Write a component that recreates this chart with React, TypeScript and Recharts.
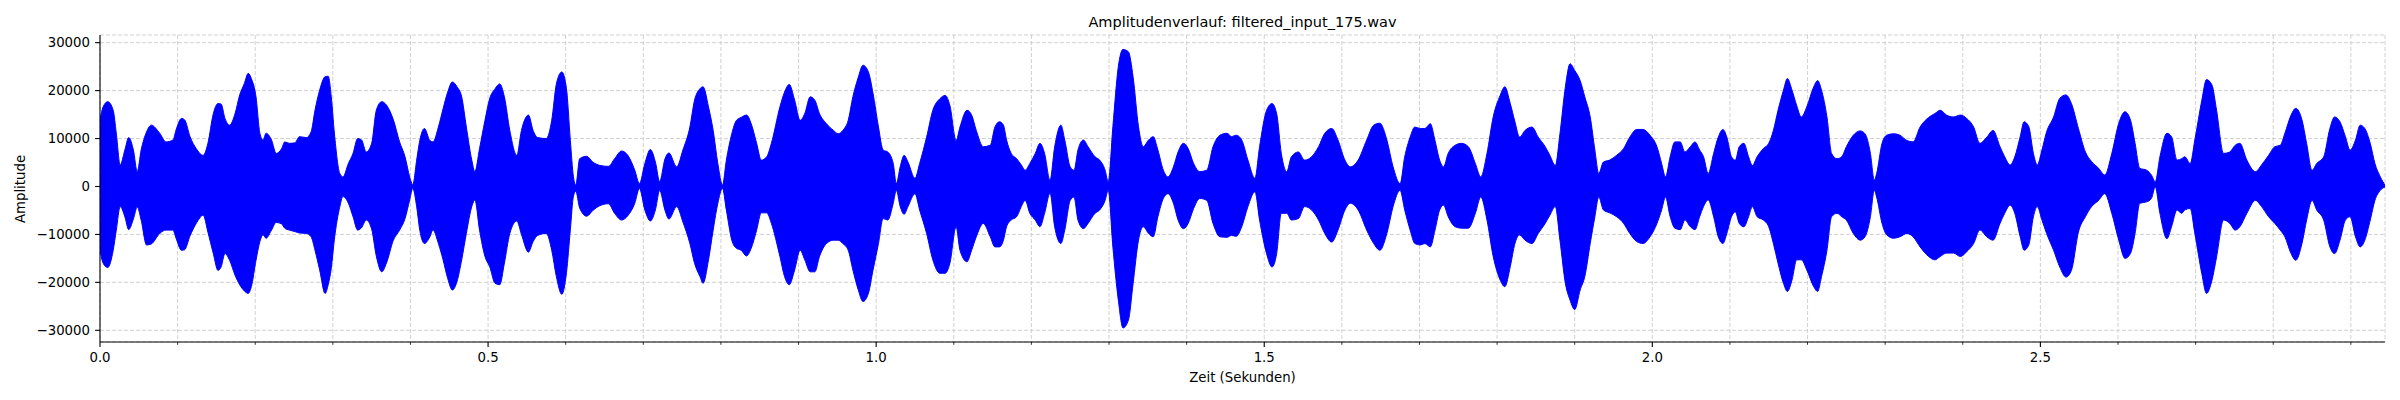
import { Area, CartesianGrid, ComposedChart, XAxis, YAxis } from "recharts";

// Envelope of the waveform (seconds / amplitude)
const times = [
  // 0.0 - 0.38
  0.0, 0.004, 0.01, 0.017, 0.021, 0.026, 0.032, 0.037, 0.043, 0.048,
  0.053, 0.06, 0.066, 0.077, 0.085, 0.094, 0.098, 0.105, 0.109, 0.116,
  0.124, 0.133, 0.139, 0.146, 0.152, 0.156, 0.161, 0.167, 0.174, 0.18,
  0.186, 0.191, 0.195, 0.201, 0.206, 0.21, 0.214, 0.221, 0.227, 0.234,
  0.238, 0.244, 0.251, 0.257, 0.266, 0.272, 0.277, 0.283, 0.29, 0.294,
  0.298, 0.302, 0.309, 0.313, 0.32, 0.326, 0.332, 0.337, 0.343, 0.35,
  0.356, 0.363, 0.369, 0.378,
  // 0.38 - 0.77
  0.386, 0.393, 0.399, 0.403, 0.408, 0.412, 0.418, 0.425, 0.429, 0.436,
  0.442, 0.448, 0.454, 0.46, 0.466, 0.472, 0.479, 0.483, 0.489, 0.496,
  0.502, 0.509, 0.515, 0.521, 0.528, 0.537, 0.543, 0.552, 0.558, 0.564,
  0.575, 0.582, 0.588, 0.595, 0.601, 0.606, 0.61, 0.613, 0.618, 0.627,
  0.635, 0.644, 0.655, 0.663, 0.672, 0.68, 0.689, 0.695, 0.702, 0.709,
  0.716, 0.721, 0.728, 0.733, 0.743, 0.751, 0.76, 0.766,
  // 0.77 - 1.16
  0.773, 0.777, 0.784, 0.79, 0.796, 0.802, 0.807, 0.814, 0.82, 0.826,
  0.833, 0.839, 0.846, 0.852, 0.859, 0.865, 0.876, 0.882, 0.888, 0.895,
  0.902, 0.908, 0.915, 0.921, 0.927, 0.936, 0.945, 0.951, 0.957, 0.964,
  0.97, 0.977, 0.983, 0.99, 0.996, 1.003, 1.009, 1.015, 1.022, 1.026,
  1.031, 1.036, 1.041, 1.05, 1.056, 1.065, 1.073, 1.082, 1.089, 1.095,
  1.103, 1.108, 1.117, 1.123, 1.129, 1.138, 1.147, 1.153,
  // 1.16 - 1.67
  1.159, 1.164, 1.168, 1.174, 1.181, 1.187, 1.192, 1.198, 1.205, 1.211,
  1.217, 1.224, 1.23, 1.238, 1.243, 1.25, 1.255, 1.26, 1.267, 1.273,
  1.282, 1.288, 1.295, 1.299, 1.305, 1.312, 1.318, 1.325, 1.331, 1.338,
  1.344, 1.351, 1.357, 1.363, 1.37, 1.376, 1.383, 1.389, 1.396, 1.402,
  1.409, 1.417, 1.426, 1.434, 1.443, 1.452, 1.458, 1.464, 1.471, 1.479,
  1.488, 1.494, 1.503, 1.51, 1.516, 1.522, 1.529, 1.535, 1.544, 1.552,
  1.561, 1.57, 1.578, 1.587, 1.595, 1.604, 1.611, 1.621, 1.632, 1.641,
  1.649, 1.658, 1.666,
  // 1.67 - 2.06
  1.675, 1.681, 1.688, 1.694, 1.701, 1.707, 1.714, 1.72, 1.726, 1.731,
  1.737, 1.746, 1.754, 1.763, 1.772, 1.779, 1.787, 1.795, 1.804, 1.81,
  1.817, 1.823, 1.829, 1.836, 1.845, 1.853, 1.862, 1.868, 1.875, 1.881,
  1.888, 1.894, 1.9, 1.907, 1.913, 1.92, 1.926, 1.931, 1.937, 1.945,
  1.954, 1.963, 1.971, 1.98, 1.988, 1.997, 2.006, 2.012, 2.017, 2.023,
  2.029, 2.036, 2.042, 2.049, 2.055,
  // 2.06 - 2.44
  2.061, 2.066, 2.072, 2.079, 2.085, 2.091, 2.096, 2.102, 2.107, 2.112,
  2.118, 2.124, 2.129, 2.135, 2.143, 2.15, 2.156, 2.162, 2.169, 2.174,
  2.18, 2.186, 2.192, 2.199, 2.208, 2.213, 2.218, 2.225, 2.231, 2.238,
  2.244, 2.25, 2.259, 2.268, 2.274, 2.281, 2.286, 2.289, 2.296, 2.302,
  2.311, 2.319, 2.328, 2.336, 2.345, 2.356, 2.364, 2.371, 2.379, 2.388,
  2.397, 2.405, 2.414, 2.422, 2.431, 2.439,
  // 2.44 - end
  2.448, 2.454, 2.461, 2.467, 2.474, 2.479, 2.485, 2.491, 2.496, 2.502,
  2.508, 2.517, 2.525, 2.533, 2.54, 2.549, 2.558, 2.566, 2.575, 2.583,
  2.592, 2.601, 2.609, 2.616, 2.622, 2.628, 2.637, 2.643, 2.648, 2.654,
  2.663, 2.669, 2.676, 2.682, 2.686, 2.693, 2.699, 2.708, 2.714, 2.721,
  2.727, 2.736, 2.744, 2.751, 2.757, 2.766, 2.777, 2.785, 2.794, 2.802,
  2.809, 2.815, 2.823, 2.829, 2.837, 2.843, 2.85, 2.856, 2.865, 2.873,
  2.879, 2.886, 2.893, 2.899, 2.906, 2.912, 2.918, 2.925, 2.931, 2.938,
  2.944,
];

const upper = [
  13900, 16600, 17700, 15900, 11100, 4500, 7600, 10200, 7600, 3100,
  7600, 11400, 12800, 11100, 9300, 9700, 11800, 14200, 13900, 10400,
  7900, 6500, 9000, 15200, 17300, 17200, 14200, 12800, 15200, 19100,
  21500, 23600, 22500, 18700, 11100, 9700, 11100, 9700, 6900, 7900,
  9300, 9000, 9100, 10400, 10200, 11400, 15900, 20100, 22900, 23000,
  18700, 11100, 2700, 2000, 4800, 6900, 10000, 9700, 7200, 9000,
  15900, 17700, 17000, 13900,

  9300, 6200, 2000, 400, 5500, 9600, 12100, 9600, 9300, 12400,
  16200, 19700, 21800, 20800, 18700, 12400, 5500, 3100, 7900, 13800,
  18300, 20400, 21400, 18700, 11700, 6500, 11700, 14900, 11700, 10200,
  10000, 13800, 21400, 23900, 20400, 9600, 2000, 300, 5800, 6300,
  5100, 4400, 4200, 5800, 7400, 6500, 3400, 600, 4800, 7700,
  4800, 1000, 5800, 7000, 4100, 7600, 12400, 18000,

  20400, 20800, 16600, 11700, 4800, 300, 5500, 11000, 13800, 14400,
  14900, 13100, 9000, 5500, 6200, 9000, 16600, 19700, 21300, 18000,
  13800, 15200, 18700, 18000, 15200, 13100, 11700, 11000, 11700, 13800,
  18700, 22800, 25300, 23900, 19400, 12400, 7600, 7200, 4800, 600,
  4100, 6500, 5100, 1700, 4800, 10300, 15900, 18300, 19000, 16900,
  9600, 12400, 15900, 14900, 11700, 8300, 8600, 12400,

  13500, 12800, 9700, 6900, 5800, 4500, 3400, 4800, 6900, 9000,
  6900, 1300, 8300, 12800, 9700, 4100, 3400, 7600, 9700, 8300,
  6200, 5500, 3400, 1000, 12500, 25000, 28600, 28100, 22900, 12500,
  8300, 9700, 10400, 7600, 3400, 2000, 4100, 7200, 9000, 7900,
  4800, 3100, 3400, 8300, 10700, 11100, 10400, 10700, 9700, 5500,
  1700, 8300, 15900, 17300, 15200, 6900, 3100, 6200, 7200, 5500,
  6200, 8300, 11100, 12100, 9700, 5500, 4100, 5500, 9700, 12800,
  13200, 9700, 4100,

  600, 6200, 10300, 12400, 12100, 12100, 13100, 9600, 5500, 4100,
  6900, 8600, 9000, 8300, 4800, 2000, 6900, 14500, 19000, 20800,
  17300, 13500, 10300, 11700, 12400, 10300, 8300, 6500, 4400, 11000,
  20800, 25600, 24200, 22100, 18700, 14500, 7600, 2700, 5100, 5500,
  6500, 7900, 10300, 11900, 11900, 10700, 8300, 4800, 2000, 6200,
  9300, 9300, 7200, 8300, 9300,

  7600, 6200, 2700, 6900, 10300, 11900, 10300, 6200, 5500, 8300,
  9000, 6200, 4400, 6200, 7900, 9000, 11700, 15900, 20100, 22500,
  20100, 16900, 14500, 16600, 20800, 22100, 20100, 14500, 6900, 5800,
  6200, 8300, 10700, 11600, 11000, 6900, 1300, 2700, 9000, 10700,
  11000, 10700, 9600, 9300, 12400, 14400, 15200, 15900, 14900, 14500,
  14900, 14200, 12400, 9000, 10300, 11700,

  8300, 6200, 4500, 6200, 10400, 13500, 12500, 6900, 4500, 7600,
  11400, 14500, 18400, 19100, 17300, 12100, 7200, 5200, 3800, 2400,
  6900, 13200, 15600, 13900, 9000, 3800, 3400, 2400, 1000, 6200,
  11100, 10400, 5500, 5800, 6200, 4800, 9700, 18000, 22300, 21200,
  15900, 6900, 7200, 8600, 9000, 5500, 3100, 4500, 6500, 8300,
  8600, 11100, 14900, 16300, 13900, 9000, 3400, 4800, 6200, 12100,
  14500, 13500, 10400, 7600, 9700, 12800, 12100, 9000, 4800, 2000,
  300,
];

const lower = [
  -13300, -16000, -16900, -13300, -9100, -4200, -6300, -9000, -6800, -4300,
  -7000, -12200, -12000, -9800, -9100, -9100, -10800, -13300, -13200, -10300,
  -7700, -6000, -9500, -14000, -17500, -16800, -14000, -15400, -18500, -20500,
  -21800, -22300, -20900, -15400, -11500, -10100, -10800, -9100, -7500, -7800,
  -8700, -9100, -9400, -9700, -9800, -10500, -13300, -17400, -22300, -20500,
  -17000, -11000, -4200, -2100, -3500, -6300, -9100, -8600, -7000, -8900,
  -14500, -17800, -16000, -11200,

  -9100, -6700, -2800, -400, -4200, -9100, -11900, -10500, -9100, -11900,
  -15300, -19200, -21600, -19800, -15300, -9800, -4200, -2800, -9100, -14600,
  -16700, -20200, -20500, -16000, -9800, -7200, -10000, -13700, -11500, -10200,
  -9800, -13300, -18800, -22500, -18000, -9000, -2000, -1000, -4500, -6200,
  -5000, -4000, -3600, -5600, -7000, -6100, -3500, -400, -4900, -7200,
  -4600, -800, -5000, -6800, -4200, -7400, -11900, -16000,

  -18800, -20200, -15300, -9100, -3500, -400, -4900, -11200, -12900, -13300,
  -14500, -12900, -9100, -5500, -5500, -7700, -14600, -18800, -20500, -17400,
  -13300, -15300, -17800, -17800, -14600, -11900, -11200, -11200, -11900, -13300,
  -17400, -21600, -24000, -22300, -17400, -11900, -6700, -7000, -3500, -800,
  -4200, -5800, -4200, -1500, -4900, -9800, -15300, -18100, -18100, -16000,
  -8400, -13300, -15700, -13300, -10500, -7700, -10500, -12600,

  -12600, -11200, -8400, -7000, -6300, -4200, -2900, -5600, -7000, -8400,
  -5600, -1400, -8400, -11900, -9100, -2900, -2200, -7000, -8800, -7700,
  -5600, -4900, -2900, -800, -12600, -23700, -29500, -27900, -20300, -11200,
  -8400, -9800, -10500, -6300, -2500, -1500, -3500, -7000, -8800, -7700,
  -4600, -2500, -2900, -7700, -10500, -10600, -10200, -10400, -8400, -4200,
  -1100, -7000, -14000, -16800, -14000, -5600, -5600, -7000, -6700, -4200,
  -4900, -7000, -9800, -11600, -9100, -4900, -3500, -4900, -9100, -11900,
  -13300, -9800, -4200,

  -800, -4900, -9100, -11900, -12200, -11900, -12600, -9100, -4900, -3900,
  -6300, -8400, -8700, -8700, -5600, -2200, -7000, -14600, -19500, -20900,
  -16700, -11900, -10100, -11200, -11900, -9800, -7700, -6000, -4200, -11200,
  -20200, -23700, -25700, -21600, -18800, -11900, -6300, -2200, -4900, -5500,
  -6300, -7700, -9800, -11500, -11900, -10500, -7700, -4900, -2200, -6300,
  -8700, -9000, -7000, -8400, -9000,

  -6300, -4200, -2800, -6300, -10500, -11900, -9800, -6300, -5300, -7700,
  -8400, -6300, -4200, -6300, -7000, -8400, -11900, -16000, -20200, -21900,
  -19500, -15300, -15300, -17400, -20900, -21900, -18800, -13300, -6300, -5600,
  -6300, -7000, -9800, -11200, -10500, -6300, -800, -2200, -7700, -10100,
  -10800, -10500, -9800, -10500, -12600, -14600, -15300, -14600, -13900, -13900,
  -14600, -13600, -11900, -9100, -10500, -11200,

  -7700, -5600, -3900, -5600, -10500, -13300, -12200, -6300, -4200, -7000,
  -9800, -13300, -16800, -18900, -17500, -9500, -6300, -4200, -2900, -1500,
  -5600, -11200, -15000, -14000, -9800, -3500, -3200, -2500, -100, -5600,
  -10900, -8400, -4900, -5600, -4900, -4600, -9800, -18200, -22300, -19600,
  -14700, -7000, -7700, -9100, -8400, -5600, -2900, -4200, -6300, -7700,
  -9100, -10500, -14000, -15400, -11900, -7000, -2900, -4900, -7000, -12600,
  -14000, -11200, -7000, -6300, -10500, -12600, -11200, -7000, -2900, -800,
  -100,
];

const xTicks = [
  0, 0.1, 0.2, 0.3, 0.4, 0.5, 0.6, 0.7, 0.8, 0.9, 1, 1.1, 1.2, 1.3, 1.4, 1.5,
  1.6, 1.7, 1.8, 1.9, 2, 2.1, 2.2, 2.3, 2.4, 2.5, 2.6, 2.7, 2.8, 2.9,
];
const xLabels = [0, 0.5, 1, 1.5, 2, 2.5];
const yTicks = [-30000, -20000, -10000, 0, 10000, 20000, 30000];

const xDomain = [0, 2.944];
const yDomain = [-32440, 31600];

const FONT = "DejaVu Sans, sans-serif";

const data = times.map((t, i) => ({ t, range: [lower[i], upper[i]] }));

const XTick = (props: any) => {
  const { x, y, payload } = props;
  const major = xLabels.includes(payload.value);
  return (
    <g>
      <line
        x1={x}
        x2={x}
        y1={y}
        y2={y + (major ? 4.9 : 2.8)}
        stroke="#000"
        strokeWidth={major ? 1.1 : 0.8}
      />
      {major && (
        <text x={x} y={y + 20} textAnchor="middle" fontSize={13.3} fontFamily={FONT} fill="#000">
          {payload.value.toFixed(1)}
        </text>
      )}
    </g>
  );
};

const YTick = (props: any) => {
  const { x, y, payload } = props;
  const v = payload.value;
  const label = v < 0 ? "\u2212" + Math.abs(v) : String(v);
  return (
    <g>
      <line x1={x - 4.9} x2={x} y1={y} y2={y} stroke="#000" strokeWidth={1.1} />
      <text x={x - 10} y={y} dy="0.36em" textAnchor="end" fontSize={13.3} fontFamily={FONT} fill="#000">
        {label}
      </text>
    </g>
  );
};

export default function App() {
  return (
    <div style={{ position: "absolute", left: 0, top: 0, width: 2400, height: 400, background: "#fff" }}>
      <ComposedChart
        width={2400}
        height={400}
        data={data}
        margin={{ top: 35, right: 15, bottom: 28, left: 10 }}
      >
        <CartesianGrid stroke="#cccccc" strokeDasharray="4 2" strokeWidth={0.9} />
        <XAxis
          dataKey="t"
          type="number"
          domain={xDomain}
          ticks={xTicks}
          interval={0}
          allowDataOverflow
          height={30}
          tickSize={0}
          tickMargin={0}
          tickLine={false}
          tick={XTick}
          axisLine={{ stroke: "#000", strokeWidth: 1.1 }}
        />
        <XAxis
          xAxisId="top"
          orientation="top"
          type="number"
          domain={xDomain}
          height={0}
          tick={false}
          tickLine={false}
          axisLine={{ stroke: "#000", strokeWidth: 1.1 }}
        />
        <YAxis
          type="number"
          domain={yDomain}
          ticks={yTicks}
          interval={0}
          allowDataOverflow
          width={90}
          tickSize={0}
          tickMargin={0}
          tickLine={false}
          tick={YTick}
          axisLine={{ stroke: "#000", strokeWidth: 1.1 }}
        />
        <YAxis
          yAxisId="right"
          orientation="right"
          type="number"
          domain={yDomain}
          width={0}
          tick={false}
          tickLine={false}
          axisLine={{ stroke: "#000", strokeWidth: 1.1 }}
        />
        <Area
          dataKey="range"
          type="monotone"
          stroke="#0000ff"
          strokeWidth={1}
          fill="#0000ff"
          fillOpacity={1}
          dot={false}
          activeDot={false}
          isAnimationActive={false}
        />
      </ComposedChart>
      <svg
        width={2400}
        height={400}
        style={{ position: "absolute", left: 0, top: 0, pointerEvents: "none" }}
      >
        <text x={1242.5} y={26.6} textAnchor="middle" fontSize={14.5} fontFamily={FONT} fill="#000">
          Amplitudenverlauf: filtered_input_175.wav
        </text>
        <text x={1242.5} y={382} textAnchor="middle" fontSize={13.3} fontFamily={FONT} fill="#000">
          Zeit (Sekunden)
        </text>
        <text
          x={25}
          y={189}
          transform="rotate(-90 25 189)"
          textAnchor="middle"
          fontSize={13.3}
          fontFamily={FONT}
          fill="#000"
        >
          Amplitude
        </text>
      </svg>
    </div>
  );
}
